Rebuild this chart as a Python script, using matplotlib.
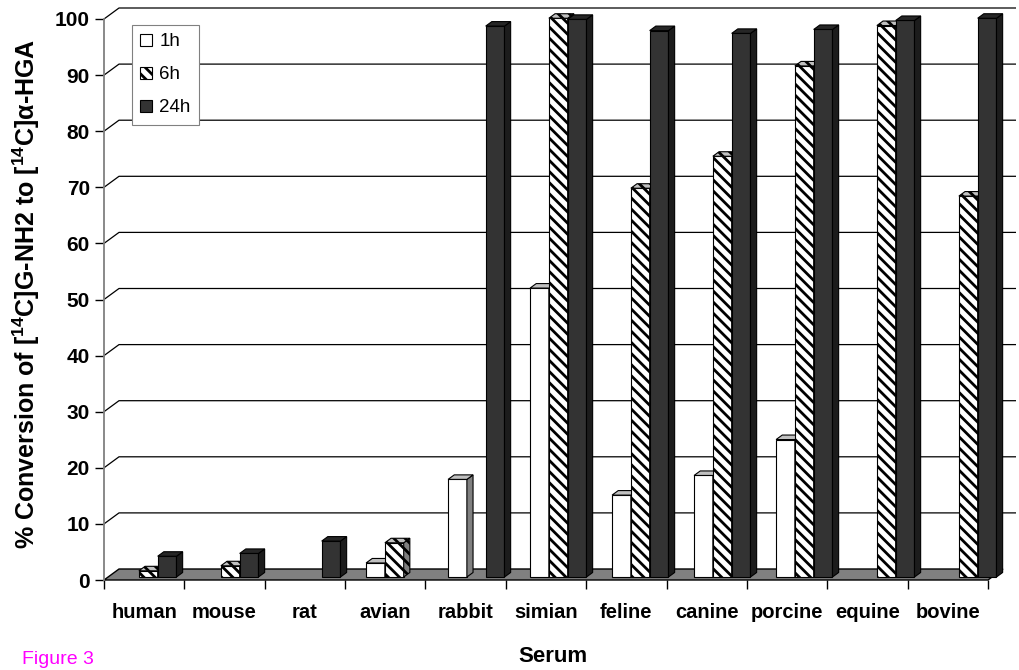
import matplotlib
matplotlib.use("Agg")
import matplotlib.pyplot as plt
from matplotlib.patches import Polygon, Patch

# ---- data -------------------------------------------------------------
species = ["human", "mouse", "rat", "avian", "rabbit", "simian",
           "feline", "canine", "porcine", "equine", "bovine"]
series_labels = ["1h", "6h", "24h"]
conv_1h = [0, 0, 0, 2.5, 17.4, 51.5, 14.6, 18.1, 24.5, 0, 0]
conv_6h = [1.1, 2.0, 0, 6.1, 0, 99.6, 69.3, 75.0, 91.1, 98.3, 67.9]
conv_24h = [3.7, 4.2, 6.4, 0, 98.2, 99.4, 97.4, 96.9, 97.6, 99.2, 99.6]
y_ticks = list(range(0, 101, 10))

# ---- style ------------------------------------------------------------
plt.rcParams.update({
    "font.family": ["Liberation Sans", "DejaVu Sans"],
    "mathtext.fontset": "custom",
    "mathtext.rm": "Liberation Sans:bold",
    "mathtext.it": "Liberation Sans:bold:italic",
    "mathtext.bf": "Liberation Sans:bold",
    "hatch.linewidth": 2.0,
    "hatch.color": "black",
})

W, H = 1019, 670
fig = plt.figure(figsize=(W / 100, H / 100), dpi=100)
ax = fig.add_axes([104 / W, 90 / H, 884 / W, 561 / H])
n = len(species)
ax.set_xlim(0, n)
ax.set_ylim(0, 100)

# pixel scale of the front plane
px_x = 884 / n          # pixels per category
px_y = 561 / 100        # pixels per percent

# oblique depth offset of the back wall, in data units
DX = 15 / px_x
DY = 11 / px_y


def P(x, v, d):
    """Project a point at category x, value v and depth d (0 front, 1 back)."""
    return (x + d * DX, v + d * DY)


# back wall gridlines with the short diagonal on the side wall
x_right = (1016 - 104) / px_x
for v in y_ticks[1:]:
    xs, ys = zip(P(0, v, 0), P(0, v, 1), (x_right, v + DY))
    ax.plot(xs, ys, color="black", lw=0.9, clip_on=False, zorder=1,
            solid_capstyle="butt")

# floor
floor = Polygon([P(0, 0, 0), P(n, 0, 0), P(n, 0, 1), P(0, 0, 1)],
                closed=True, facecolor="#808080", edgecolor="black",
                lw=1.0, clip_on=False, zorder=2)
ax.add_patch(floor)

# bars
styles = [
    dict(front="white", side="#808080", top="#c0c0c0", hatch=None),
    dict(front="white", side="#808080", top="#c0c0c0", hatch="\\\\\\"),
    dict(front="#333333", side="#1c1c1c", top="#262626", hatch=None),
]
series = [conv_1h, conv_6h, conv_24h]

BAR_W = 18.8 / px_x
SLOT = 82 / px_x
G0 = 12 / px_x
D0, D1 = 3 / 11, 3 / 11 + 0.41

z = 3
for i in range(n):
    for k, vals in enumerate(series):
        v = vals[i]
        if v <= 0:
            continue
        st = styles[k]
        x0 = G0 + i * SLOT + k * BAR_W
        x1 = x0 + BAR_W
        faces = [
            ([P(x0, 0, D0), P(x1, 0, D0), P(x1, v, D0), P(x0, v, D0)], st["front"]),
            ([P(x1, 0, D0), P(x1, 0, D1), P(x1, v, D1), P(x1, v, D0)], st["side"]),
            ([P(x0, v, D0), P(x1, v, D0), P(x1, v, D1), P(x0, v, D1)], st["top"]),
        ]
        for verts, fc in faces:
            ax.add_patch(Polygon(verts, closed=True, facecolor=fc,
                                 edgecolor="black", lw=0.8, hatch=st["hatch"],
                                 clip_on=False, zorder=z, joinstyle="miter"))
        z += 1

# axes, ticks and labels
for s in ("top", "right", "bottom"):
    ax.spines[s].set_visible(False)
ax.spines["left"].set_color("#808080")
ax.spines["left"].set_linewidth(1.3)
ax.spines["left"].set_zorder(2)
ax.patch.set_visible(False)

ax.set_yticks(y_ticks)
ax.set_yticklabels([str(t) for t in y_ticks], fontsize=15, fontweight="bold")
ax.tick_params(axis="y", direction="out", length=6.5, width=1.0,
               color="black", pad=3.6)

ax.set_xticks(range(n + 1))
ax.set_xticklabels([])
ax.tick_params(axis="x", which="major", direction="out", length=6.5,
               width=1.0, color="black")
ax.set_xticks([i + 0.5 for i in range(n)], minor=True)
ax.set_xticklabels(species, minor=True, fontsize=14.5, fontweight="bold")
ax.tick_params(axis="x", which="minor", length=0, pad=16.5)

# legend
handles = [Patch(facecolor=st["front"], edgecolor="black", hatch=st["hatch"],
                 lw=0.8) for st in styles]
leg = ax.legend(handles, series_labels, loc="upper left",
                bbox_to_anchor=(132 / W, 1 - 25 / H),
                bbox_transform=fig.transFigure, borderaxespad=0,
                fontsize=13.5, handlelength=0.6, handleheight=0.6,
                handletextpad=0.4, labelspacing=0.85, borderpad=0.45,
                fancybox=False, framealpha=1, edgecolor="#808080")
leg.get_frame().set_linewidth(0.8)
leg.set_zorder(100)

fig.text(553 / W, 1 - 656 / H, "Serum", ha="center", va="center",
         fontsize=16, fontweight="bold")
fig.text(26 / W, 1 - 294 / H,
         r"% Conversion of [$^{14}$C]G-NH2 to [$^{14}$C]α-HGA",
         rotation=90, ha="center", va="center", fontsize=18,
         fontweight="bold")
fig.text(22 / W, 1 - 668 / H, "Figure 3", color="#ff00ff", fontsize=14,
         va="bottom", ha="left")

fig.savefig("out.png", dpi=100)
